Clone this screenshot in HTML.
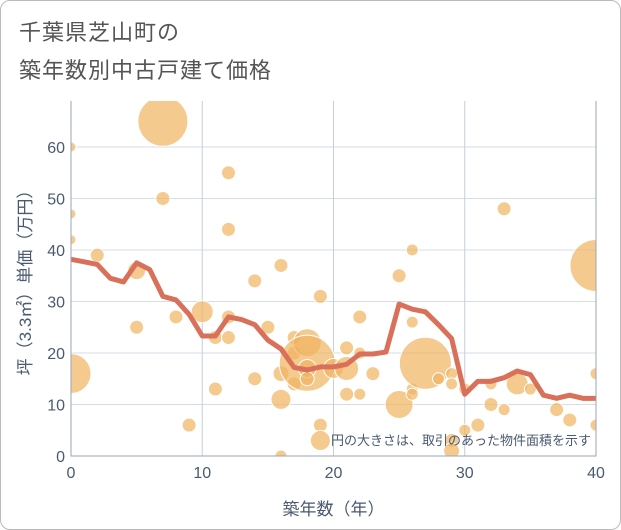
<!DOCTYPE html>
<html><head><meta charset="utf-8"><style>
body{margin:0;background:#fff;font-family:"Liberation Sans","Noto Sans CJK JP",sans-serif}
#wrap{position:relative;width:619px;height:528px;border:1px solid #bbb;border-radius:10px;overflow:hidden}
.title{position:absolute;left:18px;font-size:22px;color:#555;letter-spacing:1px}
</style></head><body>
<div id="wrap">
<div class="title" style="top:14px">千葉県芝山町の</div>
<div class="title" style="top:52px">築年数別中古戸建て価格</div>
<svg id="chart" width="621" height="530" style="position:absolute;left:0;top:0"></svg>
</div>
<script>
const xTicks=[0,10,20,30,40];
const yTicks=[0,10,20,30,40,50,60];
const lineX=[0,1,2,3,4,5,6,7,8,9,10,11,12,13,14,15,16,17,18,19,20,21,22,23,24,25,26,27,28,29,30,31,32,33,34,35,36,37,38,39,40];
const lineY=[38.2,37.7,37.2,34.5,33.8,37.5,36.2,31,30.3,27.5,23.3,23.3,27,26.5,25.5,22.5,20.8,17.2,16.7,17.3,17.3,17.8,19.8,19.8,20.2,29.5,28.5,28,25.5,22.8,12,14.5,14.5,15.2,16.5,15.8,11.8,11.2,11.8,11.2,11.2];
const bubX=[0,0,0,0,2,5,5,7,7,8,9,10,11,11,12,12,12,12,14,14,15,16,16,16,16,17,17,17,18,18,18,18,19,19,19,20,21,21,21,22,22,22,23,25,25,26,26,26,26,27,28,29,29,29,29,30,30,31,32,32,33,33,34,35,37,38,40,40,40];
const bubY=[60,47,42,16,39,36,25,65,50,27,6,28,23,13,55,44,27,23,34,15,25,37,16,11,0,23,20,14,22,18,17,15,31,6,3,17,21,17,12,27,20,12,16,35,10,40,26,13,12,18,15,16,14,3,1,13,5,6,14,10,48,9,14,13,9,7,37,16,6];
const bubR=[5,5,5,20,7,9,7,25,7,7,7,11,7,7,7,7,7,7,7,7,7,7,8,10,6,7,7,7,14,28,9,7,7,7,10,10,7,12,7,7,6,6,7,7,14,6,6,6,6,26,6,6,6,7,8,6,6,7,6,7,7,6,11,6,7,7,26,6,6];
const svg=document.getElementById('chart');const NS='http://www.w3.org/2000/svg';
const L=70,R=595,T=100,B=455;
const sx=v=>L+v*(R-L)/40, sy=v=>B-v*(B-146)/60;
function mk(t,a,p){const e=document.createElementNS(NS,t);for(const k in a)e.setAttribute(k,a[k]);(p||svg).appendChild(e);return e;}
const defs=mk('clipPath',{id:'cp'});mk('rect',{x:L,y:T,width:R-L,height:B-T},defs);
yTicks.forEach(v=>{const g=mk('line',{x1:L,x2:R,y1:sy(v),y2:sy(v),stroke:'#d5dde8','stroke-width':1});

const t=mk('text',{x:L-6,y:sy(v)+6,'text-anchor':'end','font-size':16,fill:'#4a5a70'});t.textContent=v;
});
xTicks.forEach(v=>{const g=mk('line',{x1:sx(v),x2:sx(v),y1:T,y2:B,stroke:'#c5cedb','stroke-width':1});

const t=mk('text',{x:sx(v),y:B+22,'text-anchor':'middle','font-size':16,fill:'#4a5a70'});t.textContent=v;
});
const bg=mk('g',{'clip-path':'url(#cp)'});
bubX.forEach((x,i)=>{const c=mk('circle',{cx:sx(x),cy:sy(bubY[i]),r:bubR[i],fill:'rgba(240,180,95,0.7)',stroke:'#fff','stroke-width':1},bg);
});
const p=mk('polyline',{points:lineX.map((x,i)=>sx(x)+','+sy(lineY[i])).join(' '),fill:'none',stroke:'#d9705a','stroke-width':5,'stroke-linejoin':'round'});

const ax=mk('path',{d:`M${L},${T}V${B}H${R}V${T}`,fill:'none',stroke:'#9aa5b5','stroke-width':1});

const n=mk('text',{x:590,y:444,'text-anchor':'end','font-size':13,fill:'#4a5a70'});n.textContent='円の大きさは、取引のあった物件面積を示す';

const xl=mk('text',{x:(L+R)/2,y:514,'text-anchor':'middle','font-size':17,fill:'#4a5a70'});xl.textContent='築年数（年）';

const yl=mk('text',{x:0,y:0,'text-anchor':'middle','font-size':17,fill:'#4a5a70',transform:`translate(30,${(T+B)/2}) rotate(-90)`});yl.textContent='坪（3.3㎡）単価（万円）';

</script>
</body></html>
